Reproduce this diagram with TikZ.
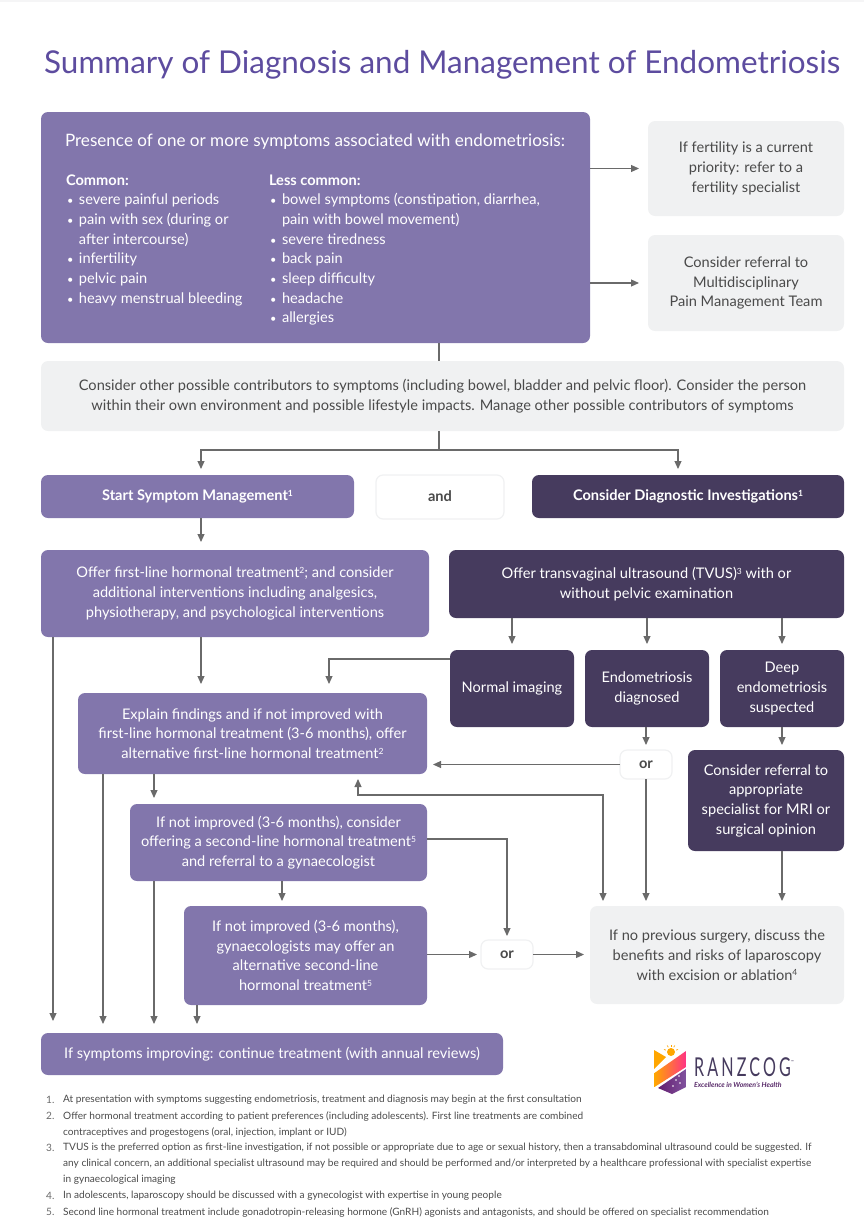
\documentclass[tikz,border=0pt]{standalone}
\usepackage{fontspec}
\setmainfont{Lato}
\newfontfamily\logofont[FakeStretch=0.62,LetterSpace=12]{Lato}
\usepackage{xcolor}
\usetikzlibrary{arrows.meta,positioning}
\definecolor{ranzpurple}{HTML}{8276AC}
\definecolor{ranzdark}{HTML}{463B5E}
\definecolor{ranzgrey}{HTML}{F0F1F2}
\definecolor{ranztitle}{HTML}{5D4C9F}
\definecolor{ranzline}{HTML}{6A6A6A}
\definecolor{ranztext}{HTML}{4A4A4A}
\newcommand{\bul}{\makebox[13pt][l]{\hspace{1pt}\scalebox{.75}{\textbullet}}}
\newcommand{\ind}{\hspace*{13pt}}
\newcommand{\ftn}[1]{\raisebox{4.5pt}{\fontsize{8.5}{8}\selectfont #1}}
\begin{document}
\begin{tikzpicture}[
    x=1pt, y=-1pt,
    >={Triangle[length=8pt,width=7pt]},
    box/.style={rectangle, rounded corners=7pt, inner sep=0pt, outer sep=0pt, align=center, font=\fontsize{14.6}{19.7}\selectfont},
    light/.style={box, fill=ranzpurple, text=white},
    dark/.style={box, fill=ranzdark, text=white},
    pale/.style={box, fill=ranzgrey, text=ranztext},
    choice/.style={box, fill=white, draw=ranzgrey, line width=1.2pt, text=ranztext, minimum width=52pt, minimum height=29pt},
    corner/.style={anchor=north west},
    plain/.style={inner sep=0pt, outer sep=0pt, text=white, align=left, anchor=north west, font=\fontsize{14.6}{19.7}\selectfont},
    link/.style={draw=ranzline, line width=1.1pt},
    arrow/.style={link, ->, shorten >=6pt},
    note/.style={inner sep=0pt, anchor=west, text=ranztext, font=\fontsize{10.1}{16}\selectfont}
]
    \useasboundingbox (0,0) rectangle (864,1232);
    \fill[ranzgrey!70] (0,0) rectangle (864,2);
    \node[anchor=base west, inner sep=0pt, text=ranztitle, font=\fontsize{31.45}{36}\selectfont] (title) at (44,73) {Summary of Diagnosis and Management of Endometriosis};

    \node[light, corner, minimum width=549pt, minimum height=231pt] (symptoms) at (41,112) {};
    \node[plain, font=\fontsize{17.1}{19.7}\selectfont] (heading) at (65,134) {Presence of one or more symptoms associated with endometriosis:};
    \node[plain] (common) at (66,174.5) {\textbf{Common:}\\
        \bul severe painful periods\\
        \bul pain with sex (during or\\
        \ind after intercourse)\\
        \bul infertility\\
        \bul pelvic pain\\
        \bul heavy menstrual bleeding};
    \node[plain] (lesscommon) at (269,174.5) {\textbf{Less common:}\\
        \bul bowel symptoms (constipation, diarrhea,\\
        \ind pain with bowel movement)\\
        \bul severe tiredness\\
        \bul back pain\\
        \bul sleep difficulty\\
        \bul headache\\
        \bul allergies};

    \node[pale, corner, minimum width=196pt, minimum height=95pt] (fertility) at (648,121) {If fertility is a current\\priority: refer to a\\fertility specialist};
    \node[pale, minimum width=196pt, minimum height=96pt, below=19pt of fertility] (painteam) {Consider referral to\\Multidisciplinary\\Pain Management Team};
    \node[pale, corner, minimum width=803pt, minimum height=70pt] (contributors) at (41,361) {Consider other possible contributors to symptoms (including bowel, bladder and pelvic floor). Consider the person\\within their own environment and possible lifestyle impacts. Manage other possible contributors of symptoms};

    \node[light, corner, minimum width=313pt, minimum height=43pt] (start) at (41,475) {\textbf{Start Symptom Management\ftn{1}}};
    \node[choice, corner, minimum width=128pt, minimum height=44pt] (and) at (376,475) {\raisebox{2pt}{\textbf{and}}};
    \node[dark, corner, minimum width=312pt, minimum height=43pt] (diag) at (532,475) {\textbf{Consider Diagnostic Investigations\ftn{1}}};

    \node[light, corner, minimum width=388pt, minimum height=87pt] (offer) at (41,550) {Offer first-line hormonal treatment\ftn{2}; and consider\\additional interventions including analgesics,\\physiotherapy, and psychological interventions};
    \node[dark, corner, minimum width=395pt, minimum height=68pt] (tvus) at (449,550) {Offer transvaginal ultrasound (TVUS)\ftn{3} with or\\without pelvic examination};
    \node[dark, corner, minimum width=124pt, minimum height=77pt] (normal) at (450,650) {Normal imaging};
    \node[dark, minimum width=124pt, minimum height=77pt, right=11pt of normal] (endo) {Endometriosis\\diagnosed};
    \node[dark, minimum width=124pt, minimum height=77pt, right=11pt of endo] (deep) {Deep\\endometriosis\\suspected};

    \node[light, corner, minimum width=349pt, minimum height=81pt] (explain) at (78,693) {Explain findings and if not improved with\\first-line hormonal treatment (3-6 months), offer\\alternative first-line hormonal treatment\ftn{2}};
    \node[choice, corner] (orA) at (620,750) {\textbf{or}};
    \node[dark, corner, minimum width=156pt, minimum height=101pt] (refer) at (688,750) {Consider referral to\\appropriate\\specialist for MRI or\\surgical opinion};
    \node[light, corner, minimum width=297pt, minimum height=77pt] (stepB) at (130,804) {If not improved (3-6 months), consider\\offering a second-line hormonal treatment\ftn{5}\\and referral to a gynaecologist};
    \node[light, corner, minimum width=243pt, minimum height=99pt] (stepC) at (184,906) {If not improved (3-6 months),\\gynaecologists may offer an\\alternative second-line\\hormonal treatment\ftn{5}};
    \node[choice, corner] (orB) at (481,940) {\textbf{or}};
    \node[pale, corner, minimum width=254pt, minimum height=98pt] (surgery) at (590,906) {If no previous surgery, discuss the\\benefits and risks of laparoscopy\\with excision or ablation\ftn{4}};
    \node[light, corner, minimum width=462pt, minimum height=42pt] (continue) at (41,1033) {\raisebox{-1.5pt}{If symptoms improving: continue treatment (with annual reviews)}};

    \coordinate (split) at (439,450);
    \coordinate (axis) at (201,0);
    \coordinate (imgturn) at (329,659);
    \coordinate (loopA) at (603,795);
    \coordinate (loopB) at (358,795);
    \coordinate (dropA) at (53,0);
    \coordinate (dropB) at (103,0);
    \coordinate (dropC) at (154,0);
    \coordinate (dropD) at (197,0);
    \coordinate (dropE) at (282,0);

    \draw[arrow, shorten >=9pt] (symptoms.east |- fertility.west) -- (fertility.west);
    \draw[arrow, shorten >=9pt] (symptoms.east |- painteam.west) -- (painteam.west);
    \draw[link] (split |- symptoms.south) -- (split |- contributors.north);
    \draw[link] (split |- contributors.south) -- (split);
    \draw[arrow] (split) -| (axis |- start.north);
    \draw[arrow] (split) -| ([xshift=-10pt]diag.north);
    \draw[arrow, shorten >=8pt] (axis |- start.south) -- (axis |- offer.north);
    \draw[arrow, shorten >=9pt] (axis |- offer.south) -- (axis |- explain.north);
    \draw[arrow] (normal.north |- tvus.south) -- (normal.north);
    \draw[arrow] (endo.north |- tvus.south) -- (endo.north);
    \draw[arrow] (deep.north |- tvus.south) -- (deep.north);
    \draw[arrow, shorten >=9pt] (imgturn -| normal.west) -- (imgturn) -- (imgturn |- explain.north);
    \draw[arrow, shorten >=5pt] (orA.north |- endo.south) -- (orA.north);
    \draw[arrow, shorten >=5pt] (deep.south) -- (deep.south |- refer.north);
    \draw[arrow] (orA.west) -- (explain.east |- orA.west);
    \draw[arrow, shorten >=5pt] (orA.south) -- (orA.south |- surgery.north);
    \draw[arrow, shorten >=5pt] (deep.south |- refer.south) -- (deep.south |- surgery.north);
    \draw[link, <->, shorten >=5pt, shorten <=5pt] (loopA |- surgery.north) -- (loopA) -- (loopB) -- (loopB |- explain.south);
    \draw[arrow] (dropC |- explain.south) -- (dropC |- stepB.north);
    \draw[arrow, shorten >=5pt] (dropE |- stepB.south) -- (dropE |- stepC.north);
    \draw[arrow, shorten >=4pt] ([yshift=3.5pt]stepB.east) -| (orB.north);
    \draw[arrow, shorten >=4pt] (stepC.east |- orB.west) -- (orB.west);
    \draw[arrow] (orB.east) -- (surgery.west |- orB.east);
    \draw[arrow, shorten >=12pt] (dropA |- offer.south) -- (dropA |- continue.north);
    \draw[arrow, shorten >=9pt] (dropB |- explain.south) -- (dropB |- continue.north);
    \draw[arrow, shorten >=9pt] (dropC |- stepB.south) -- (dropC |- continue.north);
    \draw[arrow, shorten >=9pt] (dropD |- stepC.south) -- (dropD |- continue.north);

    \fill[orange!70!yellow] (654,1050) -- (666,1057) -- (654,1069) -- cycle;
    \shade[left color=orange!70!yellow, right color=red!60!magenta!80!white] (654.5,1073) -- (686,1051) -- (686,1067) -- (654.5,1087) -- cycle;
    \shade[left color=ranzdark!50!violet, right color=ranzpurple!70!violet] (686,1069) -- (658,1088) -- (672,1094) -- (686,1087) -- cycle;
    \fill[orange!70!yellow] (671,1052) circle[radius=4];
    \foreach \ang in {200,240,270,300,340}
        \draw[orange!70!yellow, line width=0.7pt] (671,1052) ++(\ang:5.5) -- ++(\ang:2);
    \foreach \sx/\sy in {676/1080,680/1083,673/1086,679/1076}
        \fill[white] (\sx,\sy) circle[radius=0.9];
    \node[anchor=base west, inner sep=0pt, text=ranzdark, font=\fontsize{26}{27}\logofont] (logoname) at (694,1076) {RANZCOG\raisebox{13pt}{\fontsize{4}{4}\selectfont\rmfamily ™}};
    \node[anchor=west, inner sep=0pt, text=ranzdark!70!violet, font=\fontsize{7}{8}\selectfont\bfseries\itshape] (logotag) at (694,1084.5) {Excellence in Women's Health};

    \foreach \ny/\nnum in {1100/1,1116/2,1148/3,1196/4,1212/5}
        \node[note, text=ranzline] (num\nnum) at (46,\ny) {\nnum.};
    \node[note] (foot1) at (63,1100) {At presentation with symptoms suggesting endometriosis, treatment and diagnosis may begin at the first consultation};
    \node[note] (foot2) at (63,1116) {Offer hormonal treatment according to patient preferences (including adolescents). First line treatments are combined};
    \node[note] (foot2b) at (63,1132) {contraceptives and progestogens (oral, injection, implant or IUD)};
    \node[note] (foot3) at (63,1148) {TVUS is the preferred option as first-line investigation, if not possible or appropriate due to age or sexual history, then a transabdominal ultrasound could be suggested. If};
    \node[note] (foot3b) at (63,1164) {any clinical concern, an additional specialist ultrasound may be required and should be performed and/or interpreted by a healthcare professional with specialist expertise};
    \node[note] (foot3c) at (63,1180) {in gynaecological imaging};
    \node[note] (foot4) at (63,1196) {In adolescents, laparoscopy should be discussed with a gynecologist with expertise in young people};
    \node[note] (foot5) at (63,1212) {Second line hormonal treatment include gonadotropin-releasing hormone (GnRH) agonists and antagonists, and should be offered on specialist recommendation};
\end{tikzpicture}
\end{document}
